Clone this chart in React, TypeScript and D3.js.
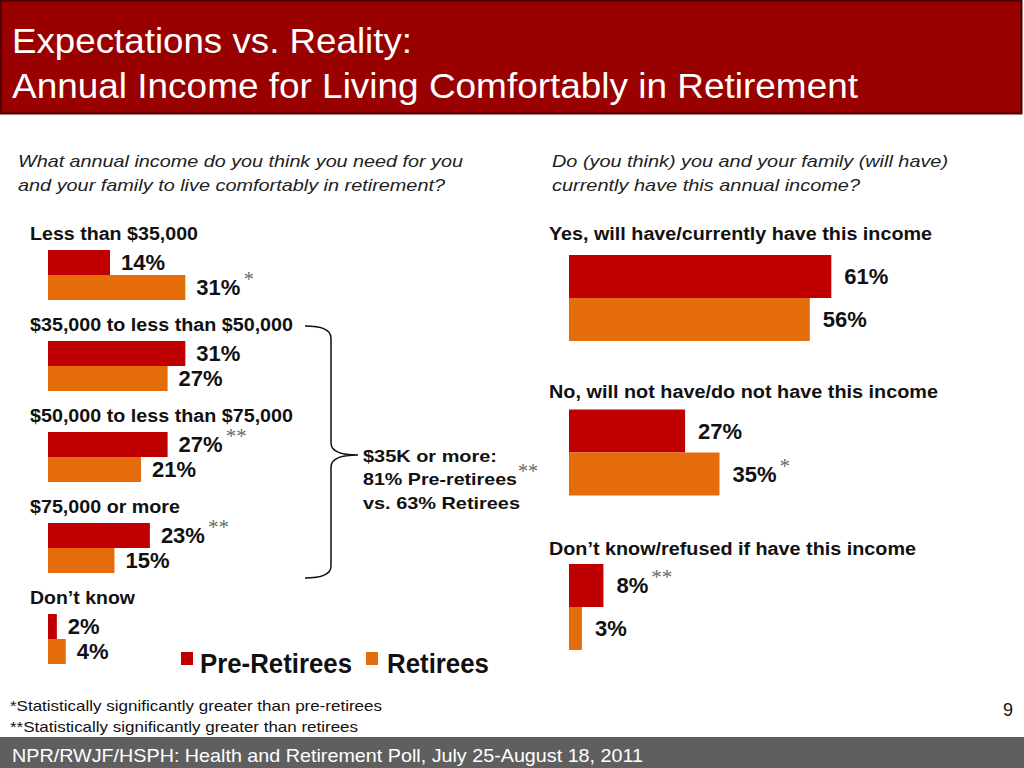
import * as React from 'react'
import {scaleLinear} from 'd3'

// income needed (left panel)
const incomeCategories = ['Less than $35,000', '$35,000 to less than $50,000', '$50,000 to less than $75,000', '$75,000 or more', 'Don’t know']
const incomePre = [14, 31, 27, 23, 2]
const incomeRet = [31, 27, 21, 15, 4]
const incomePreMarks = ['', '', '**', '**', '']
const incomeRetMarks = ['*', '', '', '', '']

// have this income (right panel)
const haveCategories = ['Yes, will have/currently have this income', 'No, will not have/do not have this income', 'Don’t know/refused if have this income']
const havePre = [61, 27, 8]
const haveRet = [56, 35, 3]
const havePreMarks = ['', '', '**']
const haveRetMarks = ['', '*', '']

const seriesNames = ['Pre-Retirees', 'Retirees']
const footnotes = ['*Statistically significantly greater than pre-retirees', '**Statistically significantly greater than retirees']

const RED = '#C00000'
const ORANGE = '#E46C0A'
const SANS = '"Liberation Sans", Arial, Helvetica, sans-serif'
const SERIF = '"Liberation Serif", "Times New Roman", serif'

const leftLabelWidths = [168, 263, 263, 150, 105]
const rightLabelWidths = [383, 389, 367]
const rightLabelBase = [240, 398, 555]

function Value({x, y, text, mark}: {x: number, y: number, text: string, mark: string}) {
  return (
    <text x={x} y={y} dy="0.36em" fontFamily={SANS} fontWeight="bold" fontSize={22} fill="#111">
      {text}
      {mark ? <tspan dx={3} dy={-9} fontFamily={SERIF} fontWeight="normal" fontSize={21} fill="#6b6b6b">{mark}</tspan> : null}
    </text>
  )
}

export default function App() {
  const xL = scaleLinear().domain([0, 100]).range([48, 48 + 443])
  const yL = scaleLinear().domain([0, 4]).range([250, 614])
  const bhL = 25
  const xR = scaleLinear().domain([0, 100]).range([569, 569 + 430])
  const yR = scaleLinear().domain([0, 2]).range([255, 564])
  const bhR = 43

  return (
    <svg width={1024} height={768} style={{position: 'absolute', left: 0, top: 0, background: '#fff'}}>
      {/* title band */}
      <rect x={0.5} y={0.5} width={1021} height={113} fill="#990000" stroke="#4a0000" strokeWidth={2} />
      <text x={12} y={53} fontFamily={SANS} fontSize={35} fill="#fff" textLength={400} lengthAdjust="spacingAndGlyphs">Expectations vs. Reality:</text>
      <text x={12} y={98} fontFamily={SANS} fontSize={35} fill="#fff" textLength={846} lengthAdjust="spacingAndGlyphs">Annual Income for Living Comfortably in Retirement</text>

      {/* questions */}
      <g fontFamily={SANS} fontStyle="italic" fontSize={17} fill="#222">
        <text x={18} y={167} textLength={445} lengthAdjust="spacingAndGlyphs">What annual income do you think you need for you</text>
        <text x={18} y={191} textLength={427} lengthAdjust="spacingAndGlyphs">and your family to live comfortably in retirement?</text>
        <text x={552} y={167} textLength={396} lengthAdjust="spacingAndGlyphs">Do (you think) you and your family (will have)</text>
        <text x={552} y={191} textLength={308} lengthAdjust="spacingAndGlyphs">currently have this annual income?</text>
      </g>

      {/* left panel */}
      {incomeCategories.map((c, i) => {
        const y0 = yL(i)
        return (
          <g key={c}>
            <text x={30} y={y0 - 10} fontFamily={SANS} fontWeight="bold" fontSize={18} fill="#111" textLength={leftLabelWidths[i]} lengthAdjust="spacingAndGlyphs">{c}</text>
            <rect x={xL(0)} y={y0} width={xL(incomePre[i]) - xL(0)} height={bhL} fill={RED} />
            <rect x={xL(0)} y={y0 + bhL} width={xL(incomeRet[i]) - xL(0)} height={bhL} fill={ORANGE} />
            <Value x={xL(incomePre[i]) + 11} y={y0 + bhL / 2} text={`${incomePre[i]}%`} mark={incomePreMarks[i]} />
            <Value x={xL(incomeRet[i]) + 11} y={y0 + bhL * 1.5} text={`${incomeRet[i]}%`} mark={incomeRetMarks[i]} />
          </g>
        )
      })}

      {/* bracket */}
      <path d="M305,326 Q331,326 331,338 L331,443 Q331,455 358,455 Q331,455 331,467 L331,566 Q331,578 305,578" fill="none" stroke="#111" strokeWidth={1.5} />
      <g fontFamily={SANS} fontWeight="bold" fontSize={17} fill="#111">
        <text x={363} y={462} textLength={134} lengthAdjust="spacingAndGlyphs">$35K or more:</text>
        <text x={363} y={485}>
          <tspan textLength={154} lengthAdjust="spacingAndGlyphs">81% Pre-retirees</tspan>
          <tspan dx={1} dy={-7} fontFamily={SERIF} fontWeight="normal" fontSize={20} fill="#6b6b6b">**</tspan>
        </text>
        <text x={363} y={509} textLength={157} lengthAdjust="spacingAndGlyphs">vs. 63% Retirees</text>
      </g>

      {/* right panel */}
      {haveCategories.map((c, i) => {
        const y0 = yR(i)
        return (
          <g key={c}>
            <text x={549} y={rightLabelBase[i]} fontFamily={SANS} fontWeight="bold" fontSize={18} fill="#111" textLength={rightLabelWidths[i]} lengthAdjust="spacingAndGlyphs">{c}</text>
            <rect x={xR(0)} y={y0} width={xR(havePre[i]) - xR(0)} height={bhR} fill={RED} />
            <rect x={xR(0)} y={y0 + bhR} width={xR(haveRet[i]) - xR(0)} height={bhR} fill={ORANGE} />
            <Value x={xR(havePre[i]) + 13} y={y0 + bhR / 2} text={`${havePre[i]}%`} mark={havePreMarks[i]} />
            <Value x={xR(haveRet[i]) + 13} y={y0 + bhR * 1.5} text={`${haveRet[i]}%`} mark={haveRetMarks[i]} />
          </g>
        )
      })}

      {/* legend */}
      <rect x={181} y={652} width={12} height={13} fill={RED} />
      <text x={200} y={673} fontFamily={SANS} fontWeight="bold" fontSize={27} fill="#111" textLength={152} lengthAdjust="spacingAndGlyphs">{seriesNames[0]}</text>
      <rect x={366} y={652} width={12} height={13} fill={ORANGE} />
      <text x={387} y={673} fontFamily={SANS} fontWeight="bold" fontSize={27} fill="#111" textLength={102} lengthAdjust="spacingAndGlyphs">{seriesNames[1]}</text>

      {/* footnotes */}
      <g fontFamily={SANS} fontSize={15} fill="#111">
        <text x={10} y={711} textLength={372} lengthAdjust="spacingAndGlyphs">{footnotes[0]}</text>
        <text x={10} y={732} textLength={348} lengthAdjust="spacingAndGlyphs">{footnotes[1]}</text>
        <text x={1013} y={716} fontSize={18} textAnchor="end">9</text>
      </g>

      {/* footer */}
      <rect x={0} y={737} width={1024} height={31} fill="#5f5f5f" />
      <text x={12} y={762} fontFamily={SANS} fontSize={19} fill="#fff" textLength={631} lengthAdjust="spacingAndGlyphs">NPR/RWJF/HSPH: Health and Retirement Poll, July 25-August 18, 2011</text>
    </svg>
  )
}
